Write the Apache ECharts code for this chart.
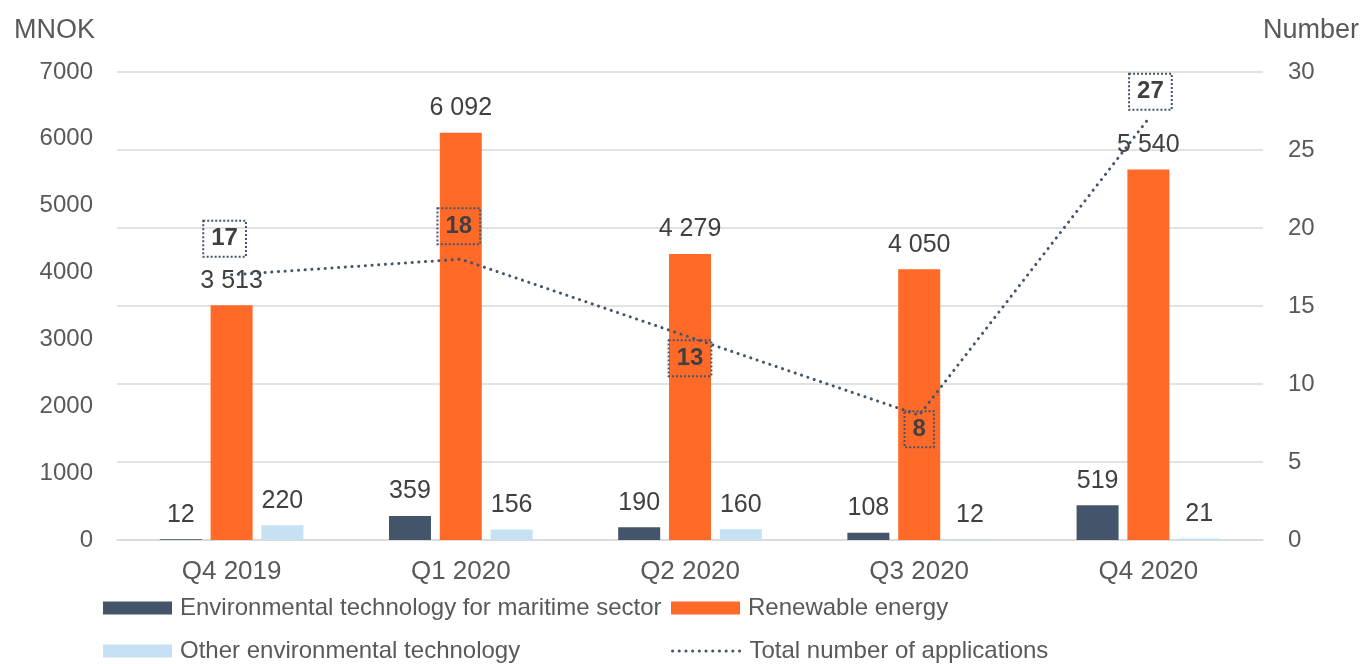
<!DOCTYPE html>
<html>
<head>
<meta charset="utf-8">
<script src="https://cdn.jsdelivr.net/npm/echarts@6/dist/echarts.min.js"></script>
<style>
  html, body { margin: 0; padding: 0; background: #ffffff; }
  #chart { width: 1369px; height: 664px; }
</style>
</head>
<body>
<div id="chart"></div>
<script>
// Quarterly grants (MNOK) by technology area, plus number of applications
const quarters = ['Q4 2019', 'Q1 2020', 'Q2 2020', 'Q3 2020', 'Q4 2020'];
const maritimeTech = [12, 359, 190, 108, 519];
const renewableEnergy = [3513, 6092, 4279, 4050, 5540];
const otherEnvTech = [220, 156, 160, 12, 21];
const applicationCount = [17, 18, 13, 8, 27];

const seriesNames = [
  'Environmental technology for maritime sector',
  'Renewable energy',
  'Other environmental technology',
  'Total number of applications'
];

const leftTicks = { min: 0, max: 7000, interval: 1000 };
const rightTicks = { min: 0, max: 30, interval: 5 };

// Placement of the boxed count labels relative to each point
const countLabelOffsets = [[-7, -36], [-2, -33], [0, 21], [0, 14], [2, -27]];

const FONT = '"Liberation Sans", Arial, sans-serif';
const AXIS_GREY = '#595959';
const LABEL_DARK = '#404040';
const COLORS = ['#44546A', '#FF6A28', '#C5E1F3'];
const LINE_COLOR = '#44546A';
const DOTTED = { color: LINE_COLOR, width: 3, type: [0.1, 6.6], cap: 'round' };

// "6092" -> "6 092"
function spaced(v) {
  return String(v).replace(/\B(?=(\d{3})+(?!\d))/g, ' ');
}

const barLabel = {
  show: true,
  position: 'top',
  distance: 12,
  fontFamily: FONT,
  fontSize: 25,
  color: LABEL_DARK,
  formatter: p => spaced(p.value)
};

function barSeries(name, values, color) {
  return {
    name: name,
    type: 'bar',
    yAxisIndex: 0,
    barWidth: 42,
    barGap: '21%',
    itemStyle: { color: color },
    label: barLabel,
    data: values
  };
}

const lineData = applicationCount.map((v, i) => ({
  value: v,
  label: { offset: countLabelOffsets[i] }
}));

function legendAt(item, left, top) {
  return {
    data: [item],
    left: left,
    top: top,
    padding: 0,
    itemWidth: 69,
    itemHeight: 13,
    itemGap: 0,
    textStyle: { fontFamily: FONT, fontSize: 24, color: AXIS_GREY, padding: [0, 0, 0, 3] }
  };
}

const chart = echarts.init(document.getElementById('chart'), null, { renderer: 'canvas' });

chart.setOption({
  animation: false,
  backgroundColor: '#ffffff',
  textStyle: { fontFamily: FONT },
  grid: { left: 117, right: 106, top: 72, bottom: 124, containLabel: false },
  legend: [
    legendAt({ name: seriesNames[0], icon: 'rect' }, 103, 596),
    legendAt({ name: seriesNames[1], icon: 'rect' }, 671, 596),
    legendAt({ name: seriesNames[2], icon: 'rect' }, 103, 639),
    legendAt({ name: seriesNames[3], lineStyle: DOTTED, itemStyle: { opacity: 0 } }, 671, 639)
  ],
  xAxis: {
    type: 'category',
    data: quarters,
    axisLine: { show: true, lineStyle: { color: '#D9D9D9', width: 1.5 } },
    axisTick: { show: false },
    axisLabel: { margin: 19, fontFamily: FONT, fontSize: 26, color: AXIS_GREY },
    splitLine: { show: false }
  },
  yAxis: [
    {
      type: 'value',
      name: 'MNOK',
      nameLocation: 'end',
      nameGap: 28,
      nameTextStyle: { fontFamily: FONT, fontSize: 27, color: AXIS_GREY, align: 'right', padding: [0, 22, 0, 0] },
      min: leftTicks.min,
      max: leftTicks.max,
      interval: leftTicks.interval,
      axisLine: { show: false },
      axisTick: { show: false },
      axisLabel: { margin: 24, fontFamily: FONT, fontSize: 24, color: AXIS_GREY, formatter: v => String(v) },
      splitLine: { show: false }
    },
    {
      type: 'value',
      name: 'Number',
      nameLocation: 'end',
      nameGap: 28,
      nameTextStyle: { fontFamily: FONT, fontSize: 27, color: AXIS_GREY, align: 'left', padding: [0, 0, 0, 0] },
      min: rightTicks.min,
      max: rightTicks.max,
      interval: rightTicks.interval,
      axisLine: { show: false },
      axisTick: { show: false },
      axisLabel: { margin: 25, fontFamily: FONT, fontSize: 24, color: AXIS_GREY },
      splitLine: { show: true, lineStyle: { color: '#D9D9D9', width: 1.5 } }
    }
  ],
  series: [
    barSeries(seriesNames[0], maritimeTech, COLORS[0]),
    barSeries(seriesNames[1], renewableEnergy, COLORS[1]),
    barSeries(seriesNames[2], otherEnvTech, COLORS[2]),
    {
      name: seriesNames[3],
      type: 'line',
      yAxisIndex: 1,
      z: 5,
      symbol: 'circle',
      symbolSize: 1,
      showSymbol: true,
      itemStyle: { color: 'rgba(0,0,0,0)' },
      lineStyle: DOTTED,
      label: {
        show: true,
        position: 'inside',
        fontFamily: FONT,
        fontSize: 24,
        fontWeight: 'bold',
        color: LABEL_DARK,
        padding: [6, 8, 6, 8],
        borderColor: LINE_COLOR,
        borderWidth: 2,
        borderType: 'dotted'
      },
      emphasis: { disabled: true },
      data: lineData
    }
  ]
});
</script>
</body>
</html>
